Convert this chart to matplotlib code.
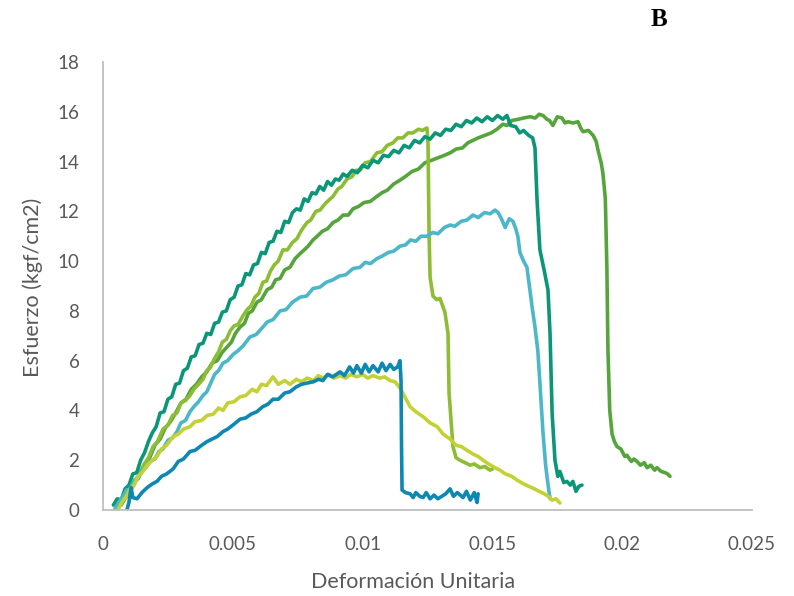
import matplotlib
matplotlib.use("Agg")
import matplotlib.pyplot as plt

# Stress-strain curves of six specimens (strain, stress in kgf/cm2)
strain_a = [0.00040, 0.00055, 0.00070, 0.00085, 0.00100, 0.00115, 0.00130, 0.00145, 0.00160, 0.00175,
            0.00190, 0.00205, 0.00220, 0.00235, 0.00250, 0.00265, 0.00280, 0.00295, 0.00310, 0.00325,
            0.00340, 0.00355, 0.00370, 0.00385, 0.00400, 0.00415, 0.00430, 0.00445, 0.00460, 0.00475,
            0.00490, 0.00505, 0.00520, 0.00535, 0.00550, 0.00565, 0.00580, 0.00595, 0.00610, 0.00625,
            0.00640, 0.00655, 0.00670, 0.00685, 0.00700, 0.00715, 0.00730, 0.00745, 0.00760, 0.00775,
            0.00790, 0.00805, 0.00820, 0.00835, 0.00850, 0.00865, 0.00880, 0.00895, 0.00910, 0.00925,
            0.00940, 0.00960, 0.00980, 0.01000, 0.01020, 0.01040, 0.01060, 0.01080, 0.01100, 0.01120,
            0.01140, 0.01160, 0.01180, 0.01200, 0.01220, 0.01240, 0.01260, 0.01280, 0.01300, 0.01320,
            0.01340, 0.01360, 0.01380, 0.01400, 0.01420, 0.01440, 0.01460, 0.01480, 0.01500, 0.01520,
            0.01540, 0.01556, 0.01570, 0.01590, 0.01605, 0.01620, 0.01640, 0.01655, 0.01664, 0.01672,
            0.01683, 0.01700, 0.01714, 0.01722, 0.01730, 0.01741, 0.01752, 0.01760, 0.01775, 0.01787,
            0.01800, 0.01810, 0.01822, 0.01833, 0.01845]
stress_a = [0.20, 0.45, 0.40, 0.85, 1.00, 1.45, 1.50, 2.00, 2.30, 2.75,
            3.10, 3.35, 3.90, 3.95, 4.45, 4.55, 5.05, 5.10, 5.60, 5.70,
            6.15, 6.20, 6.65, 6.70, 7.10, 7.05, 7.50, 7.55, 7.95, 8.00,
            8.45, 8.55, 9.00, 9.05, 9.50, 9.45, 9.85, 9.90, 10.35, 10.30,
            10.75, 10.80, 11.20, 11.15, 11.60, 11.55, 11.95, 12.10, 12.05, 12.50,
            12.40, 12.75, 12.70, 13.00, 12.85, 13.20, 13.05, 13.30, 13.25, 13.50,
            13.40, 13.65, 13.55, 13.85, 13.75, 14.05, 13.95, 14.25, 14.20, 14.45,
            14.35, 14.65, 14.55, 14.85, 14.75, 15.00, 14.90, 15.15, 15.05, 15.30,
            15.25, 15.50, 15.40, 15.65, 15.55, 15.75, 15.60, 15.80, 15.65, 15.85,
            15.70, 15.85, 15.45, 15.40, 15.15, 15.25, 15.05, 14.95, 14.55, 12.45,
            10.45, 9.60, 8.85, 7.10, 3.90, 2.00, 1.35, 1.55, 1.10, 1.15,
            1.00, 1.15, 0.75, 0.95, 1.00]

strain_b = [0.00060, 0.00077, 0.00095, 0.00116, 0.00135, 0.00154, 0.00175, 0.00193, 0.00210, 0.00231,
            0.00250, 0.00268, 0.00285, 0.00300, 0.00318, 0.00335, 0.00350, 0.00368, 0.00385, 0.00400,
            0.00415, 0.00430, 0.00445, 0.00460, 0.00475, 0.00490, 0.00505, 0.00520, 0.00539, 0.00555,
            0.00570, 0.00585, 0.00600, 0.00616, 0.00630, 0.00645, 0.00660, 0.00675, 0.00693, 0.00710,
            0.00730, 0.00747, 0.00765, 0.00786, 0.00800, 0.00820, 0.00836, 0.00855, 0.00870, 0.00886,
            0.00905, 0.00920, 0.00940, 0.00960, 0.00975, 0.00990, 0.01010, 0.01030, 0.01055, 0.01075,
            0.01095, 0.01117, 0.01135, 0.01155, 0.01175, 0.01194, 0.01215, 0.01230, 0.01248, 0.01252,
            0.01256, 0.01260, 0.01271, 0.01285, 0.01298, 0.01317, 0.01329, 0.01333, 0.01348, 0.01360,
            0.01375, 0.01395, 0.01414, 0.01430, 0.01452, 0.01470, 0.01491, 0.01500]
stress_b = [0.10, 0.40, 0.70, 1.10, 1.35, 1.75, 2.10, 2.55, 2.75, 3.25,
            3.40, 3.80, 3.90, 4.30, 4.40, 4.60, 4.85, 5.05, 5.25, 5.60,
            5.75, 6.10, 6.35, 6.75, 6.85, 7.20, 7.40, 7.45, 7.80, 8.05,
            8.20, 8.55, 8.70, 9.15, 9.20, 9.60, 9.85, 10.00, 10.45, 10.45,
            10.75, 10.90, 11.25, 11.55, 11.65, 12.00, 12.05, 12.30, 12.45, 12.60,
            12.90, 13.00, 13.30, 13.40, 13.65, 13.65, 13.95, 14.00, 14.35, 14.40,
            14.65, 14.75, 14.95, 14.95, 15.15, 15.15, 15.30, 15.25, 15.35, 14.75,
            11.10, 9.35, 8.60, 8.45, 8.50, 7.95, 7.10, 4.70, 2.55, 2.10,
            2.00, 1.90, 1.80, 1.85, 1.70, 1.75, 1.60, 1.65]

strain_c = [0.00070, 0.00090, 0.00110, 0.00125, 0.00145, 0.00160, 0.00180, 0.00200, 0.00220, 0.00240,
            0.00260, 0.00280, 0.00300, 0.00320, 0.00340, 0.00360, 0.00380, 0.00400, 0.00420, 0.00440,
            0.00460, 0.00478, 0.00495, 0.00510, 0.00528, 0.00545, 0.00560, 0.00575, 0.00593, 0.00610,
            0.00632, 0.00650, 0.00665, 0.00682, 0.00700, 0.00720, 0.00740, 0.00759, 0.00775, 0.00790,
            0.00809, 0.00825, 0.00845, 0.00865, 0.00886, 0.00905, 0.00925, 0.00945, 0.00963, 0.00985,
            0.01005, 0.01030, 0.01055, 0.01075, 0.01095, 0.01120, 0.01144, 0.01165, 0.01190, 0.01215,
            0.01240, 0.01265, 0.01290, 0.01315, 0.01337, 0.01360, 0.01385, 0.01405, 0.01425, 0.01445,
            0.01470, 0.01495, 0.01518, 0.01540, 0.01556, 0.01575, 0.01600, 0.01620, 0.01645, 0.01665,
            0.01680, 0.01695, 0.01710, 0.01720, 0.01733, 0.01750, 0.01768, 0.01780, 0.01791, 0.01810,
            0.01830, 0.01840, 0.01849, 0.01870, 0.01888, 0.01900, 0.01907, 0.01920, 0.01926, 0.01935,
            0.01941, 0.01945, 0.01952, 0.01961, 0.01970, 0.01980, 0.01995, 0.02010, 0.02018, 0.02035,
            0.02045, 0.02057, 0.02070, 0.02085, 0.02096, 0.02110, 0.02125, 0.02134, 0.02150, 0.02165,
            0.02175, 0.02184]
stress_c = [0.20, 0.55, 0.85, 1.15, 1.45, 1.85, 2.10, 2.60, 2.85, 3.30,
            3.55, 3.90, 4.30, 4.45, 4.85, 5.05, 5.35, 5.55, 5.90, 6.00,
            6.35, 6.55, 6.75, 7.10, 7.35, 7.50, 7.90, 8.00, 8.35, 8.45,
            8.85, 8.95, 9.25, 9.30, 9.65, 9.75, 10.10, 10.30, 10.45, 10.60,
            10.85, 11.00, 11.20, 11.30, 11.55, 11.65, 11.85, 11.85, 12.10, 12.20,
            12.35, 12.40, 12.60, 12.75, 12.85, 13.10, 13.25, 13.40, 13.60, 13.70,
            13.95, 14.05, 14.15, 14.25, 14.35, 14.50, 14.55, 14.75, 14.85, 14.95,
            15.05, 15.15, 15.30, 15.50, 15.45, 15.65, 15.70, 15.75, 15.80, 15.75,
            15.90, 15.85, 15.70, 15.65, 15.45, 15.80, 15.75, 15.55, 15.60, 15.55,
            15.60, 15.35, 15.20, 15.25, 15.05, 14.80, 14.45, 13.90, 13.50, 12.50,
            9.75, 6.45, 4.00, 3.05, 2.75, 2.55, 2.45, 2.15, 2.20, 1.95,
            2.05, 1.95, 1.80, 1.90, 1.70, 1.80, 1.60, 1.70, 1.55, 1.50,
            1.45, 1.35]

strain_d = [0.00046, 0.00060, 0.00077, 0.00090, 0.00105, 0.00120, 0.00135, 0.00150, 0.00165, 0.00181,
            0.00200, 0.00215, 0.00231, 0.00250, 0.00268, 0.00285, 0.00300, 0.00318, 0.00335, 0.00350,
            0.00368, 0.00385, 0.00400, 0.00415, 0.00430, 0.00445, 0.00462, 0.00480, 0.00501, 0.00520,
            0.00540, 0.00566, 0.00590, 0.00616, 0.00632, 0.00655, 0.00682, 0.00705, 0.00730, 0.00759,
            0.00785, 0.00809, 0.00835, 0.00860, 0.00886, 0.00910, 0.00935, 0.00963, 0.00990, 0.01010,
            0.01030, 0.01055, 0.01075, 0.01100, 0.01120, 0.01144, 0.01165, 0.01185, 0.01205, 0.01225,
            0.01248, 0.01270, 0.01290, 0.01315, 0.01337, 0.01355, 0.01380, 0.01402, 0.01425, 0.01445,
            0.01470, 0.01491, 0.01510, 0.01522, 0.01535, 0.01549, 0.01565, 0.01579, 0.01590, 0.01598,
            0.01606, 0.01620, 0.01633, 0.01645, 0.01653, 0.01664, 0.01675, 0.01683, 0.01695, 0.01705,
            0.01712, 0.01722]
stress_d = [0.05, 0.30, 0.55, 0.80, 0.85, 1.20, 1.25, 1.60, 1.70, 1.95,
            2.05, 2.35, 2.45, 2.80, 2.90, 3.15, 3.50, 3.60, 3.95, 4.15,
            4.35, 4.60, 4.75, 5.10, 5.45, 5.60, 5.90, 6.00, 6.25, 6.40,
            6.60, 6.95, 7.05, 7.35, 7.55, 7.65, 8.00, 8.05, 8.35, 8.55,
            8.60, 8.90, 8.95, 9.15, 9.25, 9.40, 9.45, 9.70, 9.75, 9.95,
            9.90, 10.10, 10.20, 10.35, 10.40, 10.60, 10.65, 10.85, 10.80, 11.00,
            11.00, 11.15, 11.10, 11.35, 11.45, 11.40, 11.60, 11.65, 11.85, 11.75,
            11.95, 11.90, 12.05, 11.95, 11.70, 11.35, 11.70, 11.60, 11.30, 11.00,
            10.35, 10.00, 9.75, 8.80, 8.15, 7.35, 6.40, 5.10, 3.10, 1.80,
            1.20, 0.45]

strain_e = [0.00060, 0.00075, 0.00090, 0.00104, 0.00120, 0.00135, 0.00154, 0.00170, 0.00190, 0.00208,
            0.00225, 0.00245, 0.00270, 0.00290, 0.00310, 0.00335, 0.00355, 0.00380, 0.00401, 0.00425,
            0.00445, 0.00462, 0.00480, 0.00505, 0.00528, 0.00550, 0.00575, 0.00593, 0.00610, 0.00630,
            0.00655, 0.00675, 0.00700, 0.00720, 0.00745, 0.00765, 0.00786, 0.00810, 0.00830, 0.00847,
            0.00870, 0.00890, 0.00913, 0.00935, 0.00955, 0.00978, 0.01000, 0.01020, 0.01040, 0.01065,
            0.01085, 0.01106, 0.01125, 0.01144, 0.01165, 0.01183, 0.01205, 0.01233, 0.01260, 0.01287,
            0.01310, 0.01337, 0.01360, 0.01380, 0.01402, 0.01425, 0.01445, 0.01464, 0.01485, 0.01510,
            0.01529, 0.01550, 0.01575, 0.01595, 0.01620, 0.01640, 0.01656, 0.01680, 0.01700, 0.01715,
            0.01730, 0.01745, 0.01760]
stress_e = [0.05, 0.35, 0.55, 0.85, 1.00, 1.35, 1.55, 1.80, 2.00, 2.15,
            2.45, 2.60, 2.95, 3.05, 3.25, 3.35, 3.55, 3.60, 3.80, 3.85,
            4.10, 4.00, 4.30, 4.35, 4.55, 4.60, 4.85, 4.75, 5.05, 5.00,
            5.35, 5.05, 5.20, 5.05, 5.25, 5.15, 5.30, 5.20, 5.40, 5.30,
            5.45, 5.30, 5.40, 5.30, 5.45, 5.35, 5.45, 5.30, 5.40, 5.30,
            5.35, 5.20, 5.15, 4.90, 4.50, 4.15, 3.95, 3.75, 3.50, 3.35,
            3.05, 2.85, 2.60, 2.55, 2.40, 2.25, 2.15, 2.00, 1.85, 1.70,
            1.60, 1.45, 1.35, 1.20, 1.05, 0.95, 0.88, 0.75, 0.65, 0.55,
            0.40, 0.45, 0.28]

strain_f = [0.00092, 0.00100, 0.00108, 0.00115, 0.00131, 0.00150, 0.00170, 0.00190, 0.00208, 0.00225,
            0.00245, 0.00270, 0.00290, 0.00310, 0.00335, 0.00355, 0.00380, 0.00401, 0.00420, 0.00440,
            0.00462, 0.00480, 0.00505, 0.00528, 0.00550, 0.00570, 0.00593, 0.00615, 0.00635, 0.00655,
            0.00675, 0.00700, 0.00720, 0.00745, 0.00765, 0.00786, 0.00810, 0.00830, 0.00847, 0.00865,
            0.00885, 0.00913, 0.00930, 0.00950, 0.00965, 0.00978, 0.00995, 0.01010, 0.01025, 0.01040,
            0.01060, 0.01075, 0.01090, 0.01106, 0.01120, 0.01135, 0.01144, 0.01148, 0.01150, 0.01152,
            0.01165, 0.01183, 0.01195, 0.01205, 0.01220, 0.01233, 0.01245, 0.01260, 0.01275, 0.01290,
            0.01305, 0.01320, 0.01337, 0.01350, 0.01365, 0.01387, 0.01400, 0.01415, 0.01430, 0.01441,
            0.01445]
stress_f = [0.00, 0.30, 0.90, 0.50, 0.45, 0.70, 0.90, 1.05, 1.15, 1.35,
            1.45, 1.65, 1.95, 2.05, 2.35, 2.40, 2.60, 2.75, 2.85, 2.95,
            3.15, 3.25, 3.45, 3.65, 3.70, 3.85, 3.95, 4.15, 4.25, 4.45,
            4.45, 4.70, 4.75, 4.95, 5.05, 5.10, 5.15, 5.25, 5.20, 5.45,
            5.35, 5.55, 5.40, 5.75, 5.50, 5.80, 5.50, 5.85, 5.55, 5.80,
            5.55, 5.90, 5.60, 5.85, 5.65, 5.75, 6.00, 5.20, 2.50, 0.80,
            0.70, 0.65, 0.50, 0.70, 0.55, 0.50, 0.70, 0.45, 0.60, 0.45,
            0.55, 0.65, 0.85, 0.55, 0.70, 0.50, 0.75, 0.40, 0.70, 0.30,
            0.65]

series = [
    (strain_c, stress_c, "#55A43C"),
    (strain_b, stress_b, "#8DBD35"),
    (strain_a, stress_a, "#0B9677"),
    (strain_d, stress_d, "#4BB7C8"),
    (strain_e, stress_e, "#C3D135"),
    (strain_f, stress_f, "#0D88B2"),
]

x_ticks = [0, 0.005, 0.01, 0.015, 0.02, 0.025]
x_tick_labels = ["0", "0.005", "0.01", "0.015", "0.02", "0.025"]
y_ticks = [0, 2, 4, 6, 8, 10, 12, 14, 16, 18]

fig = plt.figure(figsize=(7.94, 5.96), dpi=100)
ax = fig.add_axes([103 / 794, 1 - 510 / 596, 649 / 794, 448 / 596])

for xs, ys, col in series:
    ax.plot(xs, ys, color=col, linewidth=2.6, solid_joinstyle="round", solid_capstyle="round")

ax.set_xlim(0, 0.025)
ax.set_ylim(0, 18)
ax.set_xticks(x_ticks)
ax.set_xticklabels(x_tick_labels)
ax.set_yticks(y_ticks)

text_color = "#595959"
for side in ("top", "right"):
    ax.spines[side].set_visible(False)
for side in ("left", "bottom"):
    ax.spines[side].set_color("#BFBFBF")
    ax.spines[side].set_linewidth(1.3)

ax.tick_params(axis="both", length=0, labelsize=13.5, colors=text_color)
ax.tick_params(axis="x", pad=19)
ax.tick_params(axis="y", pad=17)
for lab in ax.get_xticklabels() + ax.get_yticklabels():
    lab.set_fontfamily("Lato")

ax.set_xlabel("Deformación Unitaria", fontsize=15.5, color=text_color, family="Lato")
ax.set_ylabel("Esfuerzo (kgf/cm2)", fontsize=15.5, color=text_color, family="Lato")
ax.xaxis.set_label_coords((413 - 103) / 649, -(582 - 510) / 448)
ax.yaxis.set_label_coords(-(103 - 33) / 649, (510 - 287) / 448)
ax.xaxis.label.set_va("center")
ax.yaxis.label.set_va("center")

fig.text(659 / 794, 1 - 20 / 596, "B", fontsize=18, fontweight="bold",
         family="Liberation Serif", ha="center", va="center", color="black")

fig.savefig("out.png", dpi=100)
